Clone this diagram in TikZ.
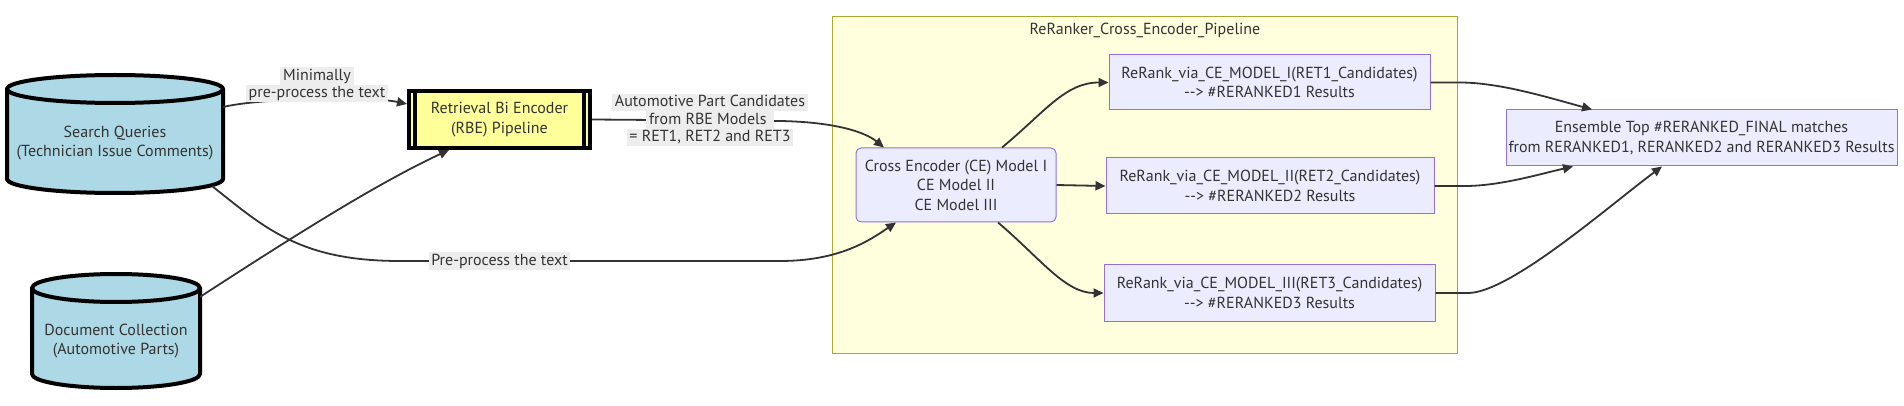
\documentclass[tikz,border=0pt]{standalone}
\usepackage{fontspec}
\setmainfont{PT Sans}
\usetikzlibrary{arrows.meta,calc}
\definecolor{cylfill}{HTML}{ADD8E6}
\definecolor{rbefill}{HTML}{FFFF99}
\definecolor{clusterfill}{HTML}{FFFFDE}
\definecolor{clusterdraw}{HTML}{AAAA33}
\definecolor{nodefill}{HTML}{ECECFF}
\definecolor{nodedraw}{HTML}{9370DB}
\definecolor{textcol}{HTML}{333333}
\definecolor{edgecol}{HTML}{333333}
\definecolor{lblfill}{HTML}{EDEDED}
\newcommand{\lbx}[1]{{\setlength{\fboxsep}{0pt}\colorbox{lblfill}{\rule[-4.5pt]{0pt}{17.5pt}\,#1\,}}}
\newcommand{\arr}{\mbox{-}\mbox{-}>}
\tikzset{
  txt/.style={text=textcol, font=\fontsize{16}{19.5}\selectfont, align=center, inner sep=0pt},
  box/.style={txt, draw=nodedraw, fill=nodefill, line width=1pt},
  cylbody/.style={draw=black, fill=cylfill, line width=4pt, line join=round},
  cylline/.style={draw=black, line width=4pt},
  edge/.style={draw=edgecol, line width=1.8pt, -{Triangle[length=10pt,width=9pt]}},
  lbl/.style={txt, font=\fontsize{16}{17.5}\selectfont}
}
\begin{document}
\begin{tikzpicture}[x=1pt,y=-1pt]
\useasboundingbox (0,0) rectangle (1904,406);

% cluster
\draw[draw=clusterdraw, fill=clusterfill, line width=1pt] (832,17) rectangle (1457,353);
\node[txt] (ctitle) at (1145,30) {ReRanker\_Cross\_Encoder\_Pipeline};

% cylinders
\path[cylbody] (7,89) -- (7,179) arc[start angle=180,end angle=360,x radius=108pt,y radius=14pt] -- (223,89) arc[start angle=0,end angle=180,x radius=108pt,y radius=14pt] -- cycle;
\draw[cylline] (7,89) arc[start angle=180,end angle=360,x radius=108pt,y radius=14pt];
\node[txt, minimum width=216pt, minimum height=100pt] (sq) at (115,143) {Search Queries\\(Technician Issue Comments)};

\path[cylbody] (32,288) -- (32,374) arc[start angle=180,end angle=360,x radius=84pt,y radius=14pt] -- (200,288) arc[start angle=0,end angle=180,x radius=84pt,y radius=14pt] -- cycle;
\draw[cylline] (32,288) arc[start angle=180,end angle=360,x radius=84pt,y radius=14pt];
\node[txt, minimum width=168pt, minimum height=94pt] (dc) at (116,341) {Document Collection\\ (Automotive Parts)};

% RBE subroutine
\node[txt, draw=black, fill=rbefill, line width=4pt, minimum width=181pt, minimum height=57pt] (rbe) at (499.5,119.5) {Retrieval Bi Encoder\\(RBE) Pipeline};
\draw[black, line width=3.5pt] ([xshift=8pt]rbe.north west) -- ([xshift=8pt]rbe.south west);
\draw[black, line width=3.5pt] ([xshift=-8pt]rbe.north east) -- ([xshift=-8pt]rbe.south east);

% cluster nodes
\node[box, rounded corners=5pt, minimum width=200pt, minimum height=74pt] (ce) at (956,185) {Cross Encoder (CE) Model I\\CE Model II\\CE Model III};
\node[box, minimum width=321pt, minimum height=55pt] (rr1) at (1269.5,82.5) {ReRank\_via\_CE\_MODEL\_I(RET1\_Candidates)\\\arr{} \#RERANKED1 Results};
\node[box, minimum width=328pt, minimum height=56pt] (rr2) at (1270,186) {ReRank\_via\_CE\_MODEL\_II(RET2\_Candidates)\\\arr{} \#RERANKED2 Results};
\node[box, minimum width=331pt, minimum height=56pt] (rr3) at (1269.5,293) {ReRank\_via\_CE\_MODEL\_III(RET3\_Candidates)\\\arr{} \#RERANKED3 Results};
\node[box, minimum width=391pt, minimum height=56pt] (ens) at (1701.5,138) {Ensemble Top \#RERANKED\_FINAL matches\\from RERANKED1, RERANKED2 and RERANKED3 Results};

% edges
\draw[edge] ([yshift=36pt]sq.east) .. controls (260,98) and (370,96) .. ([yshift=15.5pt]rbe.west);
\draw[edge] ([yshift=-3pt]dc.north east) .. controls (300,232) and (380,182) .. ([xshift=-50.5pt]rbe.south);
\draw[edge] ([xshift=-11pt,yshift=7pt]sq.south east) .. controls (265,228) and (300,261) .. (400,261) -- (780,261) .. controls (840,261) and (870,240) .. ([xshift=-60pt]ce.south);
\draw[edge] (rbe.east) -- (780,121) .. controls (835,122) and (865,132) .. ([xshift=-72pt]ce.north);
\draw[edge] ([xshift=46pt]ce.north) .. controls (1045,112) and (1065,82.5) .. (rr1.west);
\draw[edge] (ce.east) -- (rr2.west);
\draw[edge] ([xshift=42pt]ce.south) .. controls (1040,258) and (1065,293) .. (rr3.west);
\draw[edge] (rr1.east) -- (1460,82.5) .. controls (1500,82.5) and (1550,98) .. ([xshift=-109.5pt]ens.north);
\draw[edge] (rr2.east) -- (1465,186) .. controls (1500,186) and (1540,174) .. ([xshift=-128.5pt]ens.south);
\draw[edge] (rr3.east) -- (1468,293) .. controls (1510,293) and (1610,205) .. ([xshift=-39.5pt]ens.south);

% edge labels
\node[lbl] (l1) at (317,85) {\lbx{Minimally}\\\lbx{pre-process the text}};
\node[lbl] (l2) at (710,120) {\lbx{Automotive Part Candidates}\\\lbx{from RBE Models }\\\lbx{= RET1, RET2 and RET3}};
\node[lbl] (l3) at (499.5,261) {\lbx{Pre-process the text}};
\end{tikzpicture}
\end{document}
